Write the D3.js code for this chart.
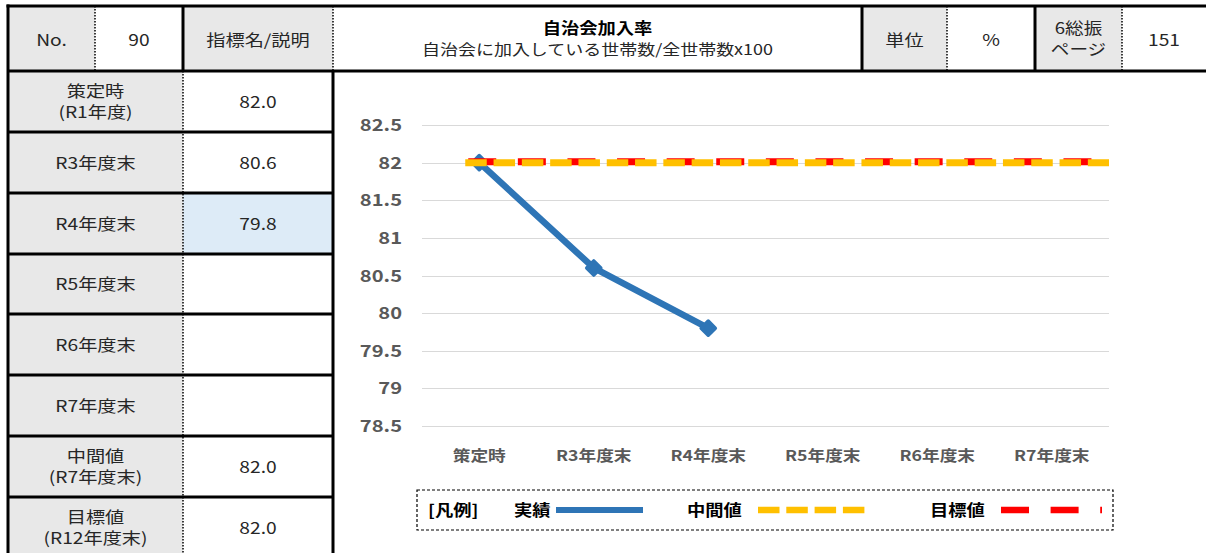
<!DOCTYPE html>
<html>
<head>
<meta charset="utf-8">
<script src="https://cdn.jsdelivr.net/npm/d3@7"></script>
<style>
  html, body { margin: 0; padding: 0; background: #fff; }
  svg { display: block; font-family: "Noto Sans CJK JP", "Noto Sans", sans-serif; }
</style>
</head>
<body>
<div id="chart"></div>
<script>
// chart data
const categories = ['策定時', 'R3年度末', 'R4年度末', 'R5年度末', 'R6年度末', 'R7年度末']
const actual = [82.0, 80.6, 79.8, null, null, null]
const midValue = 82.0
const targetValue = 82.0
const yTicks = [78.5, 79, 79.5, 80, 80.5, 81, 81.5, 82, 82.5]

// table data
const headerCells = [
  { text: ['No.'], gray: true },
  { text: ['90'], gray: false },
  { text: ['指標名/説明'], gray: true },
  { text: ['自治会加入率', '自治会に加入している世帯数/全世帯数x100'], gray: false, title: true },
  { text: ['単位'], gray: true },
  { text: ['%'], gray: false },
  { text: ['6総振', 'ページ'], gray: true },
  { text: ['151'], gray: false }
]
const rowLabels = [
  ['策定時', '(R1年度)'], ['R3年度末'], ['R4年度末'], ['R5年度末'],
  ['R6年度末'], ['R7年度末'], ['中間値', '(R7年度末)'], ['目標値', '(R12年度末)']
]
const rowValues = ['82.0', '80.6', '79.8', '', '', '', '82.0', '82.0']
const highlightRow = 2

const W = 1206, H = 553
const svg = d3.select('#chart').append('svg').attr('width', W).attr('height', H)

const GRAY = '#e8e8e8'
const TXT = '#262626'
const SX = 1.2 // the source renders its type a little wide

// text helper, optionally several lines in one element
function stext(parent, x, y, lines, opt = {}) {
  const { size = 16, weight = 400, anchor = 'middle', fill = TXT, sx = SX, lh = 21 } = opt
  const t = parent.append('text')
    .attr('transform', `translate(${x},${y}) scale(${sx},1)`)
    .attr('text-anchor', anchor)
    .style('font-size', size + 'px').style('font-weight', weight)
    .attr('fill', fill)
  ;[].concat(lines).forEach((s, i) => {
    t.append('tspan').attr('x', 0).attr('dy', i === 0 ? 0 : lh).text(s)
  })
  return t
}

// ---- header row ----
const colX = [8, 95, 183, 333, 862, 947, 1035, 1122, 1206]
const headTop = 6, headBot = 71
const headSep = ['dot', 'thick', 'dot', 'thick', 'dot', 'thick', 'dot']

headerCells.forEach((c, i) => {
  const x0 = colX[i], x1 = colX[i + 1]
  svg.append('rect')
    .attr('x', x0).attr('y', headTop).attr('width', x1 - x0).attr('height', headBot - headTop)
    .attr('fill', c.gray ? GRAY : '#fff')
  const cx = (x0 + x1) / 2
  if (c.text.length === 1) {
    stext(svg, cx, 46, c.text[0])
  } else if (c.title) {
    stext(svg, cx, 33.5, c.text[0], { size: 15.5, weight: 700, fill: '#000', sx: 1.18 })
    stext(svg, cx, 54.5, c.text[1], { size: 15, sx: 1.2 })
  } else {
    stext(svg, cx, 34, c.text, { size: 15.5, lh: 21 })
  }
})

// ---- body rows ----
const rowY = [71, 132, 193, 254, 314, 375, 436, 497, 558]
const labX = [8, 183, 333]

rowLabels.forEach((lab, i) => {
  const y0 = rowY[i], y1 = rowY[i + 1]
  svg.append('rect').attr('x', labX[0]).attr('y', y0).attr('width', labX[1] - labX[0]).attr('height', y1 - y0).attr('fill', GRAY)
  svg.append('rect').attr('x', labX[1]).attr('y', y0).attr('width', labX[2] - labX[1]).attr('height', y1 - y0)
    .attr('fill', i === highlightRow ? '#ddebf7' : '#fff')
  const cy = (y0 + y1) / 2
  const lx = (labX[0] + labX[1]) / 2
  if (lab.length === 1) {
    stext(svg, lx, cy + 6, lab[0])
  } else {
    stext(svg, lx, cy - 4.5, lab)
  }
  stext(svg, (labX[1] + labX[2]) / 2, cy + 6, rowValues[i])
})

// ---- table lines ----
const thick = (x1, y1, x2, y2) => svg.append('line')
  .attr('x1', x1).attr('y1', y1).attr('x2', x2).attr('y2', y2)
  .attr('stroke', '#000').attr('stroke-width', 3)
const dotted = (x1, y1, x2, y2) => svg.append('line')
  .attr('x1', x1).attr('y1', y1).attr('x2', x2).attr('y2', y2)
  .attr('stroke', '#000').attr('stroke-width', 1.5).attr('stroke-dasharray', '1.5,1.5')

headSep.forEach((s, i) => {
  const x = colX[i + 1]
  if (s === 'thick') thick(x, headTop, x, headBot)
  else dotted(x, headTop, x, headBot)
})
rowY.slice(1, -1).forEach(y => thick(labX[0], y, labX[2], y))
dotted(labX[1], headBot, labX[1], H)
thick(labX[2], headBot, labX[2], H)
thick(labX[0], headTop - 1.5, labX[0], H)
thick(labX[0] - 1.5, headTop, W, headTop)
thick(labX[0], headBot, W, headBot)

// ---- chart ----
const plotL = 422, plotR = 1109
const x = d3.scalePoint().domain(categories).range([plotL, plotR]).padding(0.5)
const y = d3.scaleLinear().domain([78.5, 82.5]).range([426, 125])

const grid = svg.append('g')
grid.selectAll('line').data(yTicks).join('line')
  .attr('x1', plotL).attr('x2', plotR)
  .attr('y1', d => Math.round(y(d)) + 0.5).attr('y2', d => Math.round(y(d)) + 0.5)
  .attr('stroke', '#d9d9d9').attr('stroke-width', 1.2)

const yLab = svg.append('g')
yTicks.forEach(d => stext(yLab, 402, y(d) + 6, String(d),
  { size: 16.5, weight: 700, anchor: 'end', fill: '#595959', sx: 1.22 }))

const xLab = svg.append('g')
categories.forEach(d => stext(xLab, x(d), 461, d,
  { size: 15, weight: 700, fill: '#595959', sx: 1.18 }))

// actual series
const pts = categories.map((c, i) => ({ c, v: actual[i] })).filter(d => d.v != null)
const line = d3.line().x(d => x(d.c)).y(d => y(d.v))
svg.append('path').datum(pts).attr('d', line)
  .attr('fill', 'none').attr('stroke', '#2e75b6').attr('stroke-width', 6.5)
  .attr('stroke-linejoin', 'round')
svg.append('g').selectAll('path').data(pts).join('path')
  .attr('transform', d => `translate(${x(d.c)},${y(d.v)}) rotate(45)`)
  .attr('d', 'M-5,-5H5V5H-5Z')
  .attr('fill', '#2e75b6').attr('stroke', '#2e75b6').attr('stroke-width', 3.5).attr('stroke-linejoin', 'round')

// target (red) then mid (yellow) on top
const refStart = x(categories[0]) - 14
svg.append('line')
  .attr('x1', refStart + 3).attr('x2', plotR).attr('y1', y(targetValue) - 1).attr('y2', y(targetValue) - 1)
  .attr('stroke', '#ff0000').attr('stroke-width', 7).attr('stroke-dasharray', '28,21.6')
svg.append('line')
  .attr('x1', refStart).attr('x2', plotR).attr('y1', y(midValue)).attr('y2', y(midValue))
  .attr('stroke', '#ffc000').attr('stroke-width', 7).attr('stroke-dasharray', '21.5,6.8')

// legend
const lg = svg.append('g')
lg.append('rect').attr('x', 417).attr('y', 490).attr('width', 696).attr('height', 40)
  .attr('fill', 'none').attr('stroke', '#000').attr('stroke-width', 1.2).attr('stroke-dasharray', '3,2')
const ly = 510
const lopt = { size: 15.5, weight: 700, anchor: 'start', fill: '#000', sx: 1.18 }
stext(lg, 428, ly + 6, '[凡例]', lopt)
stext(lg, 514, ly + 6, '実績', lopt)
lg.append('line').attr('x1', 556).attr('x2', 643).attr('y1', ly).attr('y2', ly)
  .attr('stroke', '#2e75b6').attr('stroke-width', 6)
stext(lg, 687, ly + 6, '中間値', lopt)
lg.append('line').attr('x1', 758).attr('x2', 865).attr('y1', ly).attr('y2', ly)
  .attr('stroke', '#ffc000').attr('stroke-width', 6.5).attr('stroke-dasharray', '21.5,6.8')
stext(lg, 930, ly + 6, '目標値', lopt)
lg.append('line').attr('x1', 1001).attr('x2', 1102).attr('y1', ly).attr('y2', ly)
  .attr('stroke', '#ff0000').attr('stroke-width', 6.5).attr('stroke-dasharray', '28,21.6')
</script>
</body>
</html>
